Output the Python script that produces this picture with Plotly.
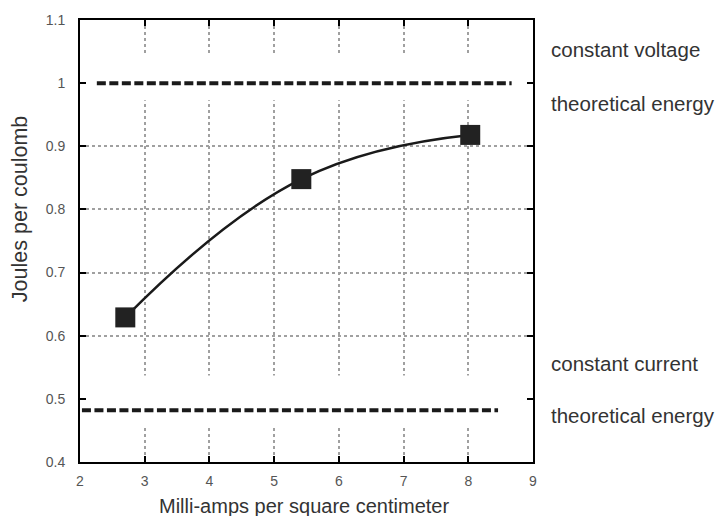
import plotly.graph_objects as go

# Data
current_density = [2.70, 5.42, 8.03]          # Milli-amps per square centimeter
joules_per_coulomb = [0.629, 0.848, 0.918]

cv_x = [2.26, 8.67]      # constant voltage theoretical energy line
cv_y = [1.0, 1.0]
cc_x = [2.03, 8.46]      # constant current theoretical energy line
cc_y = [0.482, 0.482]

x_ticks = [2, 3, 4, 5, 6, 7, 8, 9]
y_ticks = [0.4, 0.5, 0.6, 0.7, 0.8, 0.9, 1.0, 1.1]
y_ticktext = ["0.4", "0.5", "0.6", "0.7", "0.8", "0.9", "1", "1.1"]

labels = ["constant voltage", "theoretical energy", "constant current", "theoretical energy"]
label_y = [1.053, 0.9675, 0.556, 0.474]

x_title = "Milli-amps per square centimeter"
y_title = "Joules per coulomb"

# gaps in grid around the theoretical lines
gap_bands = [(0.458, 0.537), (0.973, 1.046)]

fig = go.Figure()

fig.add_trace(go.Scatter(x=cv_x, y=cv_y, mode="lines",
                         line=dict(color="#1a1a1a", width=4, dash="9px,3.5px"),
                         showlegend=False, hoverinfo="skip"))
fig.add_trace(go.Scatter(x=cc_x, y=cc_y, mode="lines",
                         line=dict(color="#1a1a1a", width=4, dash="9px,3.5px"),
                         showlegend=False, hoverinfo="skip"))
fig.add_trace(go.Scatter(x=current_density, y=joules_per_coulomb, mode="lines+markers",
                         line=dict(color="#1a1a1a", width=2.5, shape="spline", smoothing=1.25),
                         marker=dict(symbol="square", size=20, color="#222222"),
                         showlegend=False))

for y0, y1 in gap_bands:
    fig.add_shape(type="rect", xref="x", yref="y", x0=2, x1=9, y0=y0, y1=y1,
                  fillcolor="white", line=dict(width=0), layer="between")

for t, yv in zip(labels, label_y):
    fig.add_annotation(text=t, xref="paper", yref="y", x=1.036, y=yv,
                       xanchor="left", yanchor="middle", showarrow=False,
                       font=dict(size=20.5, color="#333333"))

# axis titles
fig.add_annotation(text=x_title, xref="paper", yref="paper", x=0.494, y=-0.0985,
                   xanchor="center", yanchor="middle", showarrow=False,
                   font=dict(size=20, color="#333333"), borderpad=0)
fig.add_annotation(text=y_title, xref="paper", yref="paper", x=-0.1325, y=0.572,
                   xanchor="center", yanchor="middle", showarrow=False, textangle=-90,
                   font=dict(size=21.5, color="#333333"))

axis_common = dict(showline=True, linewidth=2, linecolor="black", mirror="allticks",
                   ticks="inside", ticklen=6, tickwidth=2, tickcolor="black",
                   showgrid=True, gridcolor="#a0a0a0", gridwidth=1.5, griddash="dot",
                   zeroline=False, tickfont=dict(size=14, color="#555555"))

fig.update_xaxes(range=[2, 9], tickvals=x_ticks, ticklabelstandoff=5, **axis_common)
fig.update_yaxes(range=[0.4, 1.1], tickvals=y_ticks, ticktext=y_ticktext, ticklabelstandoff=10,
                 **axis_common)

fig.update_layout(width=716, height=516, margin=dict(l=80, r=183, t=18, b=54),
                  plot_bgcolor="white", paper_bgcolor="white",
                  font=dict(family="Liberation Sans, Arial, sans-serif"))

fig.write_html("out.html")
